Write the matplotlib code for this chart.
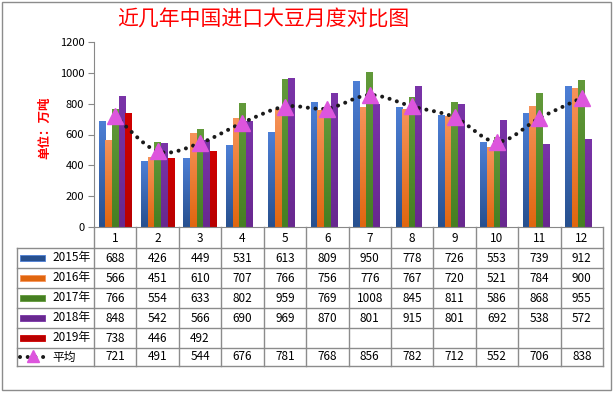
import numpy as np
import matplotlib
matplotlib.use("Agg")
import matplotlib.pyplot as plt
from matplotlib.path import Path
from matplotlib.patches import PathPatch, Rectangle
from matplotlib.colors import LinearSegmentedColormap

plt.rcParams['font.family'] = ['Noto Sans CJK SC', 'DejaVu Sans']

months = ['1', '2', '3', '4', '5', '6', '7', '8', '9', '10', '11', '12']
series_names = ['2015年', '2016年', '2017年', '2018年', '2019年']
v2015 = [688, 426, 449, 531, 613, 809, 950, 778, 726, 553, 739, 912]
v2016 = [566, 451, 610, 707, 766, 756, 776, 767, 720, 521, 784, 900]
v2017 = [766, 554, 633, 802, 959, 769, 1008, 845, 811, 586, 868, 955]
v2018 = [848, 542, 566, 690, 969, 870, 801, 915, 801, 692, 538, 572]
v2019 = [738, 446, 492, None, None, None, None, None, None, None, None, None]
avg = [721, 491, 544, 676, 781, 768, 856, 782, 712, 552, 706, 838]
avg_name = '平均'

# light top / dark bottom for the gradient fill
colors = [('#4d7fd6', '#27508f'),
          ('#f6935a', '#e0660f'),
          ('#629a3a', '#467f22'),
          ('#7a34a8', '#68288f'),
          ('#d00000', '#b80000')]

W, H = 614, 393
fig = plt.figure(figsize=(W / 100, H / 100), dpi=100)

# plot area in pixels
px0, px1, py_top, py_bot = 94, 603, 42, 227
ax = fig.add_axes([px0 / W, 1 - py_bot / H, (px1 - px0) / W, (py_bot - py_top) / H])
ax.set_xlim(-0.5, 11.5)
ax.set_ylim(0, 1200)
ax.set_yticks(range(0, 1201, 200))
ax.tick_params(axis='y', labelsize=8, length=4, color='#888888', pad=3)
ax.tick_params(axis='x', bottom=False, labelbottom=False)
for s in ['top', 'right']:
    ax.spines[s].set_visible(False)
for s in ['left', 'bottom']:
    ax.spines[s].set_color('#888888')
ax.patch.set_alpha(0)

all_vals = [v2015, v2016, v2017, v2018, v2019]
bw = 0.156
x = np.arange(len(months))
grad = np.linspace(0, 1, 64).reshape(-1, 1)
for i, vals in enumerate(all_vals):
    cmap = LinearSegmentedColormap.from_list('g%d' % i, [colors[i][1], colors[i][0]])
    offs = (i - 2) * bw
    for xi, v in zip(x, vals):
        if v is None:
            continue
        bar = Rectangle((xi + offs - bw / 2, 0), bw, v, facecolor='none', edgecolor='none')
        ax.add_patch(bar)
        im = ax.imshow(grad, cmap=cmap, aspect='auto', origin='lower',
                       extent=(xi + offs - bw / 2, xi + offs + bw / 2, 0, v), zorder=2)
        im.set_clip_path(bar)
ax.set_xlim(-0.5, 11.5)
ax.set_ylim(0, 1200)

# smoothed average line (Bezier through the points)
pts = np.column_stack([x, avg]).astype(float)
ext = np.vstack([pts[0], pts, pts[-1]])
verts = [tuple(pts[0])]
codes = [Path.MOVETO]
for k in range(1, len(ext) - 2):
    p0, p1, p2, p3 = ext[k - 1], ext[k], ext[k + 1], ext[k + 2]
    c1 = p1 + (p2 - p0) / 6
    c2 = p2 - (p3 - p1) / 6
    verts += [tuple(c1), tuple(c2), tuple(p2)]
    codes += [Path.CURVE4] * 3
curve = PathPatch(Path(verts, codes), facecolor='none', edgecolor='#1a1a1a',
                  lw=2.9, linestyle=(0, (0.01, 1.9)), capstyle='round', zorder=3)
ax.add_patch(curve)
ax.plot(x, avg, linestyle='none', marker='^', markersize=11, color='#dd55dd', zorder=4)

# title and unit label
fig.text(263 / W, 1 - 20 / H, '近几年中国进口大豆月度对比图', color='#ff0000',
         fontsize=15, ha='center', va='center')
fig.text(45 / W, 1 - 128 / H, '单位：万吨', color='#ff0000', fontsize=9,
         fontweight='bold', rotation=90, ha='center', va='center')

# data table drawn in pixel coordinates
tab = fig.add_axes([0, 0, 1, 1])
tab.set_xlim(0, W)
tab.set_ylim(H, 0)
tab.axis('off')
lc = '#8c8c8c'
cw = (px1 - px0) / 12
rows_y = [248, 268, 288, 308, 328, 348, 366]
tab_left = 17
for yy in rows_y:
    tab.plot([tab_left, px1], [yy, yy], color=lc, lw=1)
tab.plot([tab_left, tab_left], [rows_y[0], rows_y[-1]], color=lc, lw=1)
for k in range(13):
    xx = px0 + k * cw
    tab.plot([xx, xx], [py_bot, rows_y[-1]], color=lc, lw=1)
for k, m in enumerate(months):
    tab.text(px0 + (k + 0.5) * cw, (py_bot + rows_y[0]) / 2 + 1, m,
             ha='center', va='center', fontsize=8.5)

row_vals = all_vals + [avg]
row_names = series_names + [avg_name]
for r, (name, vals) in enumerate(zip(row_names, row_vals)):
    yc = (rows_y[r] + rows_y[r + 1]) / 2
    if r < len(series_names):
        tab.add_patch(Rectangle((20, yc - 3), 25, 6, facecolor=colors[r][1],
                                edgecolor=colors[r][0], lw=0.6))
    else:
        tab.plot([20, 45], [yc, yc], color='#1a1a1a', lw=2.9,
                 linestyle=(0, (0.01, 1.9)), dash_capstyle='round')
        tab.plot([33], [yc - 1], marker='^', markersize=8, color='#dd55dd',
                 linestyle='none')
    tab.text(52, yc, name, ha='left', va='center', fontsize=8.5)
    for k, v in enumerate(vals):
        if v is None:
            continue
        tab.text(px0 + (k + 0.5) * cw, yc, str(v), ha='center', va='center', fontsize=8.5)

# outer chart border
tab.add_patch(Rectangle((2, 2), 609, 388, facecolor='none', edgecolor='#8c8c8c', lw=1))

fig.savefig('out.png', dpi=100)
